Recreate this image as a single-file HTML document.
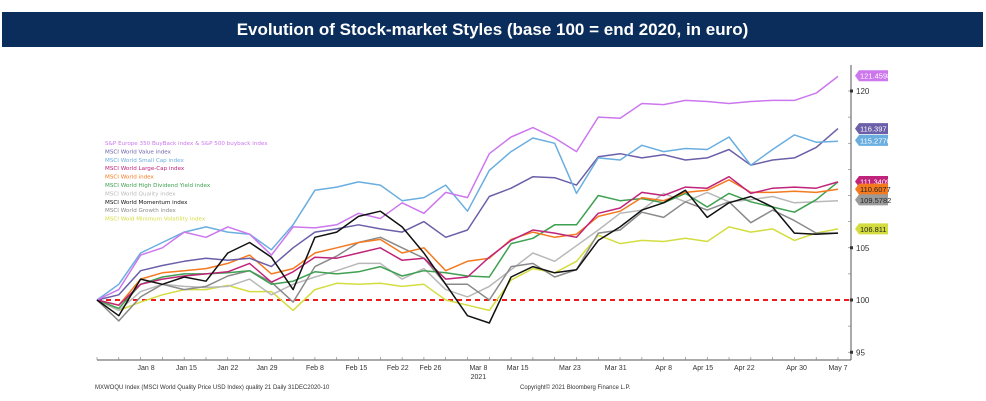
<!DOCTYPE html>
<html><head><meta charset="utf-8"><style>
body{margin:0;background:#fff;width:986px;height:401px;overflow:hidden;font-family:"Liberation Sans",sans-serif}
#title{position:absolute;left:2px;top:12px;width:981px;height:35px;background:#0b2d5b;color:#fff;font-weight:bold;font-size:17px;text-align:center;line-height:35px}
svg{position:absolute;left:0;top:0}
</style></head><body>
<div id="title">Evolution of Stock-market Styles (base 100 = end 2020, in euro)</div>
<svg id="c" width="986" height="401"></svg>
<script>
const xTickLabels=["Jan 8","Jan 15","Jan 22","Jan 29","Feb 8","Feb 15","Feb 22","Feb 26","Mar 8","Mar 15","Mar 23","Mar 31","Apr 8","Apr 15","Apr 22","Apr 30","May 7"];
const xTickPos=[2.25,4.1,6,7.8,10,11.9,13.8,15.3,17.5,19.3,21.7,23.8,26,27.8,29.7,32.1,34];
const yTicks=[95,100,105,120];
const seriesNames=["S&P Europe 350 BuyBack index &  S&P 500 buyback index","MSCI World Value index","MSCI World Small Cap index","MSCI World Large-Cap index","MSCI World index","MSCI World High Dividend Yield index","MSCI World Quality index","MSCI World Momentum index","MSCI World Growth index","MSCI Wold Minimum Volatility index"];
const seriesColors=["#cc77ee","#6a5fa8","#6aaee0","#c0237a","#f47a20","#3ea050","#b8b8b8","#111111","#8a8a8a","#d4dd40"];
const buyback=[100,101,104.3,105,106.5,106,107,106.3,104.3,107,106.9,107.2,108.3,107.8,109.3,108.3,110.3,109.8,114,115.6,116.5,115.5,114.2,117.5,117.4,118.8,118.7,119.1,119,118.8,119,119.1,119.1,119.8,121.4];
const value=[100,100.5,102.8,103.3,103.7,104,103.8,104,103.2,105,106.5,106.8,107.2,106.8,106.5,107.5,106,106.7,109.9,110.7,111.8,111.7,111,113.7,114,113.6,113.9,113.4,113.6,114.4,112.9,113.4,113.6,114.6,116.4];
const smallCap=[100,101.5,104.5,105.5,106.5,107,106.5,106.3,104.8,107.2,110.5,110.8,111.3,111,109.5,109.8,111,108.5,112.4,114.2,115.5,115,110.2,113.6,113.4,114.8,114.2,114.5,114.4,115.6,112.9,114.4,115.8,115.1,115.2];
const largeCap=[100,99.5,101.5,102,102.3,102.5,102.7,103.5,101.7,102.7,104.1,104,104.5,105,103.8,104,102,102.2,104.1,105.7,106.7,106.4,106,108.3,108.8,110.3,110,110.8,110.7,111.8,110.2,110.7,110.8,110.7,111.3];
const world=[100,99.5,102,102.6,102.8,103,103.5,104.3,102.5,103,104.5,105,105.5,105.8,104.5,105,102.8,103.7,104,105.8,106.5,106,106.3,108,108.5,109.8,109.5,110.3,110.5,111.5,110.3,110.3,110.4,110.3,110.6];
const highDiv=[100,99.2,101.5,102.2,102.5,102.5,102.6,102.8,101.5,101.8,102.7,102.5,102.7,103.2,102.3,102.8,102.6,102.3,102.2,105.4,105.9,107.2,107.2,110,109.5,109.7,109.3,110.2,108.9,110.2,109.4,108.9,108.4,109.6,111.3];
const quality=[100,99,100.8,101.5,101.3,101.2,101.3,102,100.5,101.5,102.2,102.8,103.5,103.5,102,103,101,100.3,101.3,102.9,104.5,103.7,105.2,106.7,108.3,108.6,110.2,109.4,110.3,109.4,109.6,109.9,109.3,109.4,109.5];
const momentum=[100,98.5,102,101.5,102.2,101.8,104.5,105.5,104.1,101,106,106.5,108,108.5,107,104.5,101.5,98.5,97.8,102.2,103.2,102.6,102.9,105.7,107,108.6,109.3,110.5,107.9,109.3,109.9,108.9,106.4,106.3,106.4];
const growth=[100,98,100.3,101.5,101,101.3,102.3,102.8,101.7,99.8,103.2,104.2,105.5,106,105,104,101.5,101.5,100,103.2,103.5,102.2,102.9,106.4,106.7,108.4,107.9,109.4,108.6,109.4,107.4,108.6,107.6,106.4,106.4];
const minVol=[100,99,99.8,100.5,101,101,101.4,100.8,100.8,99,101,101.6,101.5,101.6,101.3,101.5,100,99.5,99,101.9,103,102.6,103.7,106.2,105.4,105.7,105.6,105.9,105.6,107,106.5,106.8,105.7,106.4,106.8];
const endLabels=["121.4598","116.397","115.2776","111.3409","110.6077","109.5782","106.811"];
const endLabelColors=["#cc77ee","#6a5fa8","#6aaee0","#c0237a","#f47a20","#9a9a9a","#d4dd40"];
const endLabelValues=[121.46,116.4,115.28,111.34,110.61,109.58,106.81];

const X0=97,X1=838,N=buyback.length;
const xs=i=>X0+i*(X1-X0)/(N-1);
const ys=v=>300-(v-100)*10.45;
const S=document.getElementById('c'),NS='http://www.w3.org/2000/svg';
function mk(t,a,p){const e=document.createElementNS(NS,t);for(const k in a)e.setAttribute(k,a[k]);(p||S).appendChild(e);return e;}
let ax=mk('line',{x1:97,y1:360,x2:851,y2:360,stroke:'#555','stroke-width':1});


let ay=mk('line',{x1:851,y1:65,x2:851,y2:360,stroke:'#555','stroke-width':1});


for(let i=0;i<N;i++){mk('line',{x1:xs(i),y1:360,x2:xs(i),y2:357,stroke:'#777','stroke-width':0.6});}
for(let v=95;v<=122;v+=2.5){mk('line',{x1:851,y1:ys(v),x2:848,y2:ys(v),stroke:'#777','stroke-width':0.6});}
yTicks.forEach(v=>{mk('rect',{x:850,y:ys(v)-1.5,width:3,height:3,fill:'#333'});
 const t=mk('text',{x:856,y:ys(v)+3,'font-size':8,fill:'#333','font-family':'Liberation Sans'});t.textContent=v;
 
 });
xTickLabels.forEach((l,i)=>{const t=mk('text',{x:xs(xTickPos[i]),y:370,'font-size':7,fill:'#333','text-anchor':'middle','font-family':'Liberation Sans'});t.textContent=l;
 
 });
let yr=mk('text',{x:xs(17.5),y:379,'font-size':7,fill:'#333','text-anchor':'middle'});yr.textContent='2021';


let f1=mk('text',{x:95,y:389,'font-size':6,fill:'#333'});f1.textContent='MXWOQU Index (MSCI World Quality Price USD Index) quality 21  Daily 31DEC2020-10';


let f2=mk('text',{x:520,y:389,'font-size':6,fill:'#333'});f2.textContent='Copyright© 2021 Bloomberg Finance L.P.';


let bl=mk('line',{x1:97,y1:ys(100),x2:851,y2:ys(100),stroke:'#ee1c1c','stroke-width':2,'stroke-dasharray':'5,4'});


const all=[buyback,value,smallCap,largeCap,world,highDiv,quality,momentum,growth,minVol];
const order=[9,6,8,5,4,3,1,2,0,7];
order.forEach(k=>{const d=all[k].map((v,i)=>(i?'L':'M')+xs(i).toFixed(1)+','+ys(v).toFixed(1)).join('');
 const p=mk('path',{d:d,fill:'none',stroke:seriesColors[k],'stroke-width':1.5,'stroke-linejoin':'round'});
 
 });
seriesNames.forEach((n,i)=>{const t=mk('text',{x:105,y:145+i*8.4,'font-size':5.6,fill:seriesColors[i],'font-family':'DejaVu Sans'});t.textContent=n;
 
 });
endLabels.forEach((l,i)=>{const y=ys(endLabelValues[i]);const g=mk('g',{});
 
 
 mk('path',{d:`M855,${y}L859,${y-5.5}H888V${y+5.5}H859Z`,fill:endLabelColors[i]},g);
 const t=mk('text',{x:860,y:y+3,'font-size':7.5,fill:i<4?'#fff':'#222'},g);t.textContent=l;});
</script>
</body></html>
